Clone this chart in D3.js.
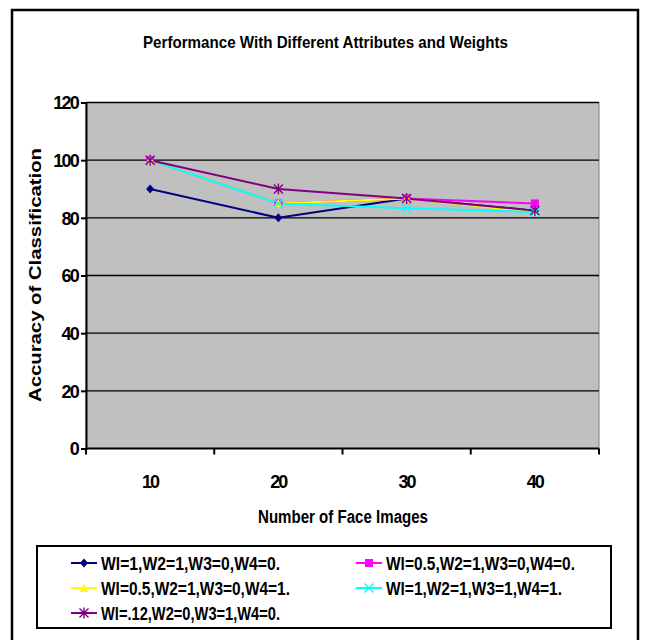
<!DOCTYPE html>
<html>
<head>
<meta charset="utf-8">
<script src="https://cdn.jsdelivr.net/npm/d3@7"></script>
<style>
  body { margin: 0; background: #fff; }
  text { font-family: "Liberation Sans Narrow", "Liberation Sans", Arial, sans-serif; font-weight: bold; fill: #000; }
</style>
</head>
<body>
<svg id="chart" width="645" height="640"></svg>
<script>
// chart data
const categories = ["10", "20", "30", "40"];
const seriesNames = [
  "Wl=1,W2=1,W3=0,W4=0.",
  "Wl=0.5,W2=1,W3=0,W4=0.",
  "Wl=0.5,W2=1,W3=0,W4=1.",
  "Wl=1,W2=1,W3=1,W4=1.",
  "Wl=.12,W2=0,W3=1,W4=0."
];
const s1 = [90, 80, 86.7, 82.5];
const s2 = [100, 85, 86.7, 85];
const s3 = [100, 85, 86.7, 82];
const s4 = [100, 85, 83.3, 82];
const s5 = [100, 90, 86.7, 82.5];
const yTicks = [0, 20, 40, 60, 80, 100, 120];

const colors = ["#000080", "#ff00ff", "#ffff00", "#00ffff", "#800080"];
const markers = ["diamond", "square", "triangle", "x", "star"];
const allSeries = [s1, s2, s3, s4, s5];

const svg = d3.select("#chart");

// outer frame
svg.append("rect").attr("x", 12).attr("y", 10).attr("width", 626).attr("height", 640)
  .attr("fill", "none").attr("stroke", "#000").attr("stroke-width", 2.5);

const pLeft = 86, pRight = 599, pTop = 102.5, pBottom = 448.5;

const x = d3.scaleBand().domain(categories).range([pLeft, pRight]);
const y = d3.scaleLinear().domain([0, 120]).range([pBottom, pTop]);

// plot area
svg.append("rect").attr("x", pLeft).attr("y", pTop).attr("width", pRight - pLeft).attr("height", pBottom - pTop)
  .attr("fill", "#c0c0c0").attr("stroke", "#808080").attr("stroke-width", 1);

// gridlines
svg.append("g").selectAll("line").data(yTicks.filter(d => d > 0)).join("line")
  .attr("x1", pLeft).attr("x2", pRight)
  .attr("y1", d => y(d)).attr("y2", d => y(d))
  .attr("stroke", "#000").attr("stroke-width", 1.3);

// y axis
const yAxis = svg.append("g").attr("transform", `translate(${pLeft},0)`)
  .call(d3.axisLeft(y).tickValues(yTicks).tickSize(5).tickPadding(3));
yAxis.select(".domain").attr("stroke-width", 2);
yAxis.selectAll(".tick line").attr("stroke-width", 2);
yAxis.selectAll("text").attr("font-size", 18).attr("dy", "0.36em")
  .style("letter-spacing", "-1.8px");

// x axis with ticks between categories
const xAxis = svg.append("g").attr("transform", `translate(0,${pBottom})`);
xAxis.append("line").attr("x1", pLeft).attr("x2", pRight).attr("stroke", "#000").attr("stroke-width", 2);
const bounds = categories.map(c => x(c)).concat([pRight]);
xAxis.selectAll(".tk").data(bounds).join("line").attr("class", "tk")
  .attr("x1", d => d).attr("x2", d => d).attr("y1", 0).attr("y2", 6)
  .attr("stroke", "#000").attr("stroke-width", 2);
xAxis.selectAll("text").data(categories).join("text")
  .attr("x", d => x(d) + x.bandwidth() / 2).attr("y", 39)
  .attr("text-anchor", "middle").attr("font-size", 18)
  .style("letter-spacing", "-1.8px").text(d => d);

// lines
const line = d3.line().x((d, i) => x(categories[i]) + x.bandwidth() / 2).y(d => y(d));
allSeries.forEach((s, k) => {
  svg.append("path").datum(s).attr("d", line)
    .attr("fill", "none").attr("stroke", colors[k]).attr("stroke-width", 2);
});

function drawMarker(g, type, color) {
  if (type === "diamond") {
    g.append("path").attr("d", "M0,-4.5L4,0L0,4.5L-4,0Z").attr("fill", color);
  } else if (type === "square") {
    g.append("rect").attr("x", -4).attr("y", -4).attr("width", 8).attr("height", 8).attr("fill", color);
  } else if (type === "triangle") {
    g.append("path").attr("d", "M0,-4.5L4.5,4L-4.5,4Z").attr("fill", color);
  } else if (type === "x") {
    g.append("path").attr("d", "M-4.5,-4.5L4.5,4.5M-4.5,4.5L4.5,-4.5").attr("stroke", color).attr("stroke-width", 1.4);
  } else {
    g.append("path").attr("d", "M-4.5,-4.5L4.5,4.5M-4.5,4.5L4.5,-4.5M0,-5.5L0,5.5").attr("stroke", color).attr("stroke-width", 1.4);
  }
}

allSeries.forEach((s, k) => {
  s.forEach((v, i) => {
    const g = svg.append("g")
      .attr("transform", `translate(${x(categories[i]) + x.bandwidth() / 2},${y(v)})`);
    drawMarker(g, markers[k], colors[k]);
  });
});

// titles
svg.append("text").attr("x", 143).attr("y", 48).attr("font-size", 17)
  .attr("textLength", 365).attr("lengthAdjust", "spacingAndGlyphs")
  .text("Performance With Different Attributes and Weights");

svg.append("text").attr("x", 258).attr("y", 523).attr("font-size", 18)
  .attr("textLength", 170).attr("lengthAdjust", "spacingAndGlyphs")
  .text("Number of Face Images");

svg.append("text").attr("transform", "translate(41,402) rotate(-90)")
  .attr("font-size", 17).style("font-family", "'Liberation Sans', Arial, sans-serif")
  .attr("textLength", 254).attr("lengthAdjust", "spacingAndGlyphs")
  .text("Accuracy of Classification");

// legend
svg.append("rect").attr("x", 37).attr("y", 546).attr("width", 574).attr("height", 82)
  .attr("fill", "#fff").attr("stroke", "#000").attr("stroke-width", 2);

const legendPos = [[71, 563], [356, 563], [71, 588], [356, 588], [71, 613]];
const textLen = [179, 189, 189, 176, 179];
seriesNames.forEach((name, k) => {
  const [lx, ly] = legendPos[k];
  const g = svg.append("g").attr("transform", `translate(${lx},${ly})`);
  g.append("line").attr("x1", 0).attr("x2", 26).attr("stroke", colors[k]).attr("stroke-width", 2);
  const m = g.append("g").attr("transform", "translate(13,0)");
  drawMarker(m, markers[k], colors[k]);
  g.append("text").attr("x", 30).attr("y", 6.5).attr("font-size", 18)
    .attr("textLength", textLen[k]).attr("lengthAdjust", "spacingAndGlyphs")
    .text(name);
});
</script>
</body>
</html>
